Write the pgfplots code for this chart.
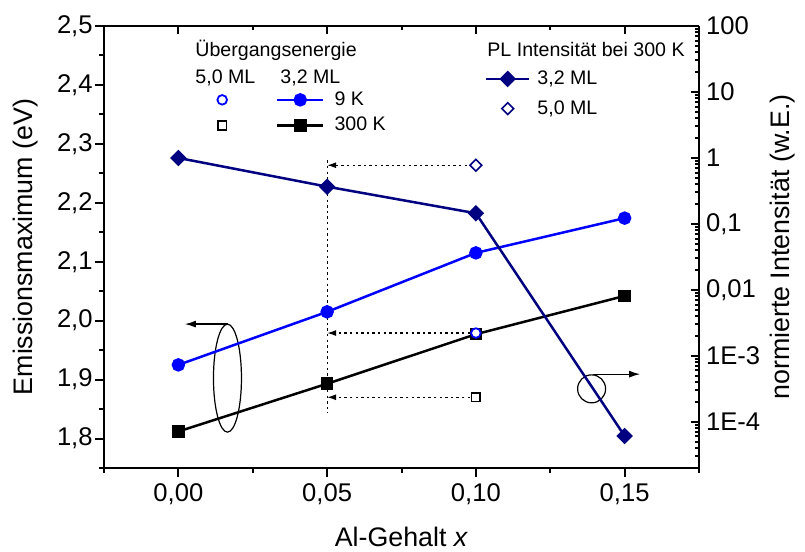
\documentclass[border=0pt]{standalone}
\usepackage{fontspec}
\setmainfont{Liberation Sans}
\usepackage{pgfplots}
\pgfplotsset{compat=1.18}
\usetikzlibrary{arrows.meta}
\definecolor{navyd}{RGB}{0,0,128}
\definecolor{bluec}{RGB}{0,0,255}

\tikzset{
  dotlin/.style={line width=0.6pt, dash pattern=on 1.2pt off 1.6pt},
  dotarr/.style={dotlin, -{Latex[length=4.5pt,width=3pt]}},
  solarr/.style={line width=0.6pt, -{Latex[length=5.5pt,width=3.5pt]}},
}
\pgfplotsset{
  legl/.style={legend image code/.code={\draw[mark repeat=2,mark phase=2,##1] plot coordinates {(0pt,0pt) (11.5pt,0pt) (23pt,0pt)};}},
  legr/.style={legend image code/.code={\draw[mark repeat=2,mark phase=2,##1] plot coordinates {(0pt,0pt) (10.75pt,0pt) (21.5pt,0pt)};}},
  legm/.style={legend image code/.code={\draw[##1] plot coordinates {(#1,0pt)};}},
  both/.style={
    scale only axis, width=297.5pt, height=221pt,
    xmin=-0.025, xmax=0.175,
    axis line style={line width=1.3pt},
    every tick/.style={black, line width=1pt},
    xtick={0,0.05,0.1,0.15},
    minor xtick={-0.025,0.025,0.075,0.125,0.175},
    tick label style={font=\fontsize{12.8}{15}\selectfont},
    label style={font=\fontsize{13.4}{16}\selectfont},
    clip=false,
  },
}
\newcommand{\legfont}{\fontsize{9.8}{11}\selectfont}

\begin{document}
\begin{tikzpicture}
\begin{axis}[
  both, name=main,
  ymin=1.75, ymax=2.5,
  axis x line*=bottom, axis y line*=left,
  tick align=outside,
  major tick length=4.5pt, minor tick length=2.5pt,
  xticklabels={{0,00},{0,05},{0,10},{0,15}},
  ytick={1.8,1.9,2.0,2.1,2.2,2.3,2.4,2.5},
  yticklabels={{1,8},{1,9},{2,0},{2,1},{2,2},{2,3},{2,4},{2,5}},
  minor ytick={1.75,1.85,1.95,2.05,2.15,2.25,2.35,2.45},
  yticklabel style={inner xsep=1pt},
  xlabel={Al-Gehalt \textit{x}},
  ylabel={Emissionsmaximum (eV)},
  xlabel style={at={(axis description cs:0.5,-0.1765)}, anchor=base, inner sep=0pt},
  ylabel style={at={(axis description cs:-0.1109,0.5)}, anchor=south, inner sep=0pt},
  legend columns=2,
  legend cell align=left,
  legend style={at={(axis description cs:0.1906,0.8518)}, anchor=north west,
    draw=none, fill=none, inner sep=0pt, outer sep=0pt, font=\legfont,
    row sep=4.5pt, nodes={inner sep=0pt},
    /tikz/every odd column/.append style={column sep=5pt},
    /tikz/every even column/.append style={column sep=18.5pt}},
]
% legend: 5,0 ML (open) and 3,2 ML (line)
\addlegendimage{legm=0pt, only marks, mark=*, mark size=2.4pt, bluec, mark options={fill=white, line width=0.9pt}}
\addlegendentry{\mbox{}}
\addlegendimage{legl, bluec, line width=1.25pt, mark=*, mark size=2.75pt}
\addlegendentry{9 K}
\addlegendimage{legm=0pt, only marks, mark=square*, mark size=2.2pt, black, mark options={fill=white, line width=0.8pt}}
\addlegendentry{\mbox{}}
\addlegendimage{legl, black, line width=1.25pt, mark=square*, mark size=2.5pt}
\addlegendentry{300 K}

% annotations
\draw[dotlin] (axis cs:0.05,2.272) -- (axis cs:0.05,1.8425);
\draw[dotarr] (axis cs:0.098,1.979) -- (axis cs:0.05,1.979);
\draw[dotarr] (axis cs:0.098,1.870) -- (axis cs:0.05,1.870);
\draw[line width=0.6pt] (axis cs:0.0165,1.9025) ellipse [x radius=7pt, y radius=27pt];
\draw[solarr] (axis cs:0.0168,1.9942) -- (axis cs:0.0022,1.9942);

% 3,2 ML
\addplot[bluec, line width=1.25pt, mark=*, mark size=2.75pt, forget plot]
  coordinates {(0,1.925) (0.05,2.015) (0.10,2.115) (0.15,2.174)};
\addplot[black, line width=1.25pt, mark=square*, mark size=2.5pt, forget plot]
  coordinates {(0,1.812) (0.05,1.893) (0.10,1.977) (0.15,2.042)};
% 5,0 ML
\addplot[bluec, only marks, mark=*, mark size=2.4pt, mark options={fill=white, line width=0.9pt}, forget plot]
  coordinates {(0.10,1.979)};
\addplot[black, only marks, mark=square*, mark size=2.2pt, mark options={fill=white, line width=0.8pt}, forget plot]
  coordinates {(0.10,1.870)};

\node[anchor=base west, inner sep=0pt, font=\legfont] at (axis description cs:0.153,0.9306) {Übergangsenergie};
\node[anchor=base west, inner sep=0pt, font=\legfont] at (axis description cs:0.153,0.870) {5,0 ML};
\node[anchor=base west, inner sep=0pt, font=\legfont] at (axis description cs:0.2958,0.870) {3,2 ML};
\node[anchor=base west, inner sep=0pt, font=\legfont] at (axis description cs:0.6437,0.9306) {PL Intensität bei 300 K};
\end{axis}

\begin{axis}[
  both,
  ymode=log, ymin=1.995e-5, ymax=100,
  axis x line*=top, axis y line*=right,
  tick align=inside,
  major tick length=4pt, minor tick length=2.2pt,
  xticklabels={},
  ytick={1e-4,1e-3,1e-2,1e-1,1,10,100},
  yticklabels={1E-4,1E-3,{0,01},{0,1},1,10,100},
  minor ytick={2e-5,3e-5,4e-5,5e-5,6e-5,7e-5,8e-5,9e-5,
    2e-4,3e-4,4e-4,5e-4,6e-4,7e-4,8e-4,9e-4,
    0.002,0.003,0.004,0.005,0.006,0.007,0.008,0.009,
    0.02,0.03,0.04,0.05,0.06,0.07,0.08,0.09,
    0.2,0.3,0.4,0.5,0.6,0.7,0.8,0.9,
    2,3,4,5,6,7,8,9,20,30,40,50,60,70,80,90},
  ylabel={normierte Intensität (w.E.)},
  ylabel style={at={(axis description cs:1.119,0.5)}, anchor=north, inner sep=0pt},
  legend cell align=left,
  legend style={at={(axis description cs:0.6403,0.899)}, anchor=north west,
    draw=none, fill=none, inner sep=0pt, outer sep=0pt, font=\legfont,
    row sep=6.5pt, nodes={inner sep=0pt},
    /tikz/every odd column/.append style={column sep=3.5pt}},
]
\addlegendimage{legr, navyd, line width=1.25pt, mark=square*, mark size=2.3pt, mark options={rotate=45}}
\addlegendentry{3,2 ML}
\addlegendimage{legm=10.75pt, only marks, navyd, mark=square*, mark size=2.1pt, mark options={rotate=45, fill=white, line width=0.8pt}}
\addlegendentry{5,0 ML}

\draw[dotarr] (axis cs:0.097,0.775) -- (axis cs:0.05,0.775);
\draw[line width=0.6pt] (axis cs:0.1389,3.16e-4) circle [radius=7pt];
\draw[solarr] (axis cs:0.1395,5.28e-4) -- (axis cs:0.1552,5.28e-4);

\addplot[navyd, line width=1.25pt, mark=square*, mark size=2.3pt, mark options={rotate=45}, forget plot]
  coordinates {(0,1) (0.05,0.367) (0.10,0.145) (0.15,6.1e-5)};
\addplot[navyd, only marks, mark=square*, mark size=2.1pt, mark options={rotate=45, fill=white, line width=0.8pt}, forget plot]
  coordinates {(0.10,0.775)};
\end{axis}
\pgfresetboundingbox
\path ([shift={(-52pt,-41.5pt)}]main.south west) rectangle ([shift={(53pt,13pt)}]main.north east);
\end{tikzpicture}
\end{document}
